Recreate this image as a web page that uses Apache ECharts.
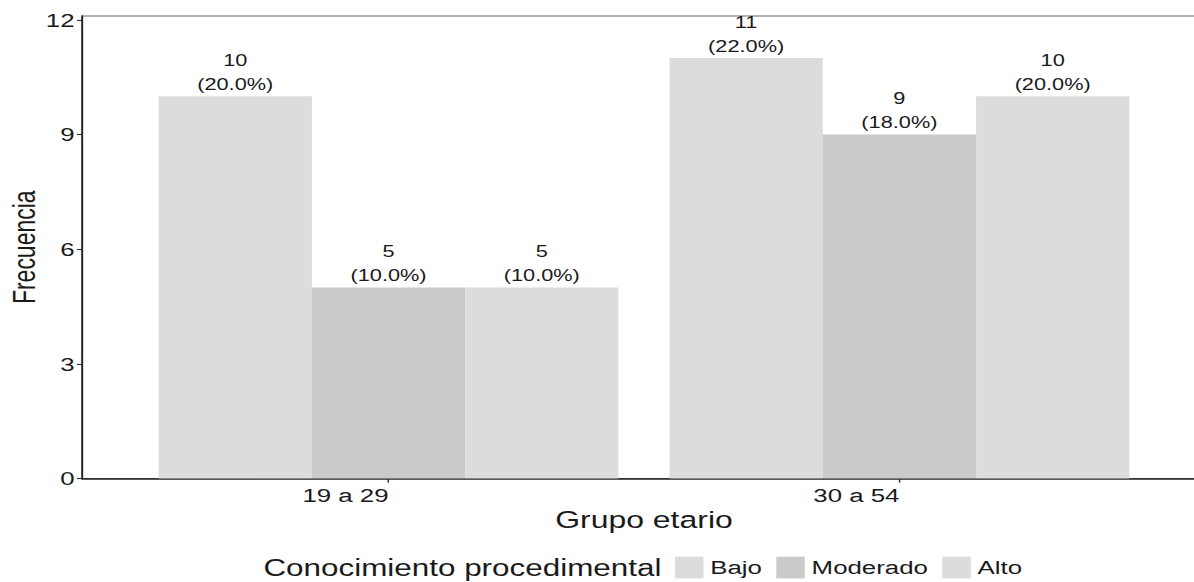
<!DOCTYPE html>
<html>
<head>
<meta charset="utf-8">
<script src="https://cdn.jsdelivr.net/npm/echarts@6/dist/echarts.min.js"></script>
<style>
  html, body { margin: 0; padding: 0; background: #fff; }
  #wrap { width: 1194px; height: 582px; overflow: hidden; position: relative; }
  #chart { width: 878px; height: 582px; transform: scaleX(1.3599); transform-origin: 0 0; }
</style>
</head>
<body>
<div id="wrap"><div id="chart"></div></div>
<script>
// ---- data ----
const categories = ['19 a 29', '30 a 54'];
const levels = ['Bajo', 'Moderado', 'Alto'];
const bajo = [10, 11];
const moderado = [5, 9];
const alto = [5, 10];
const yTicks = [0, 3, 6, 9, 12];
const catPositions = [1, 2];

// ---- build ----
const seriesValues = [bajo, moderado, alto];
const total = seriesValues.reduce((s, arr) => s + arr.reduce((a, b) => a + b, 0), 0);
const colors = ['#dcdcdc', '#cacaca', '#dcdcdc'];
const FONT = "'Liberation Sans', Arial, Helvetica, sans-serif";
const TXT = '#1a1a1a';

const series = levels.map((name, i) => ({
  name: name,
  type: 'bar',
  barWidth: '30%',
  barGap: '0%',
  itemStyle: { color: colors[i] },
  emphasis: { disabled: true },
  label: {
    show: true,
    position: 'top',
    distance: 0,
    color: TXT,
    fontFamily: FONT,
    fontSize: 16,
    lineHeight: 23.8,
    formatter: p => p.value[1] + '\n(' + (p.value[1] / total * 100).toFixed(1) + '%)'
  },
  data: seriesValues[i].map((v, j) => [catPositions[j], v])
}));

const chart = echarts.init(document.getElementById('chart'), null, { renderer: 'svg' });
chart.setOption({
  animation: false,
  backgroundColor: '#fff',
  textStyle: { fontFamily: FONT },
  title: {
    text: 'Conocimiento procedimental',
    left: 193.7,
    top: 557,
    padding: 0,
    textStyle: { fontFamily: FONT, fontSize: 23.1, fontWeight: 'normal', color: TXT }
  },
  legend: {
    data: levels,
    left: 496.3,
    top: 556.7,
    padding: 0,
    icon: 'rect',
    itemWidth: 21,
    itemHeight: 21.7,
    itemGap: 10.5,
    selectedMode: false,
    textStyle: { fontFamily: FONT, fontSize: 19, color: TXT }
  },
  grid: {
    left: 60.3, top: 16, width: 826.5, height: 462.5,
    show: true, borderColor: '#666', borderWidth: 1, backgroundColor: 'transparent',
    containLabel: false,
    outerBoundsMode: 'none'
  },
  xAxis: {
    type: 'value',
    min: 0.4,
    max: 2.6,
    name: 'Grupo etario',
    nameLocation: 'middle',
    nameGap: 29.5,
    nameMoveOverlap: false,
    nameTextStyle: { fontFamily: FONT, fontSize: 23.5, color: TXT },
    axisLine: { show: true, onZero: false, lineStyle: { color: '#222', width: 1.6 } },
    axisTick: { show: true, length: 4, customValues: catPositions, lineStyle: { color: '#333', width: 1.1 } },
    axisLabel: {
      show: true, margin: 7, customValues: catPositions, align: 'right',
      fontFamily: FONT, fontSize: 19, color: TXT,
      formatter: v => categories[Math.round(v) - 1]
    },
    splitLine: { show: false }
  },
  yAxis: {
    type: 'value',
    min: 0,
    max: 12.1,
    name: 'Frecuencia',
    nameLocation: 'middle',
    nameGap: 31,
    nameMoveOverlap: false,
    nameTextStyle: { fontFamily: FONT, fontSize: 23, color: TXT },
    axisLine: { show: true, lineStyle: { color: '#222', width: 1.3 } },
    axisTick: { show: true, length: 3.7, customValues: yTicks, lineStyle: { color: '#333', width: 1.1 } },
    axisLabel: {
      show: true, margin: 5.5, customValues: yTicks,
      fontFamily: FONT, fontSize: 19, color: TXT
    },
    splitLine: { show: false }
  },
  series: series
});
</script>
</body>
</html>
